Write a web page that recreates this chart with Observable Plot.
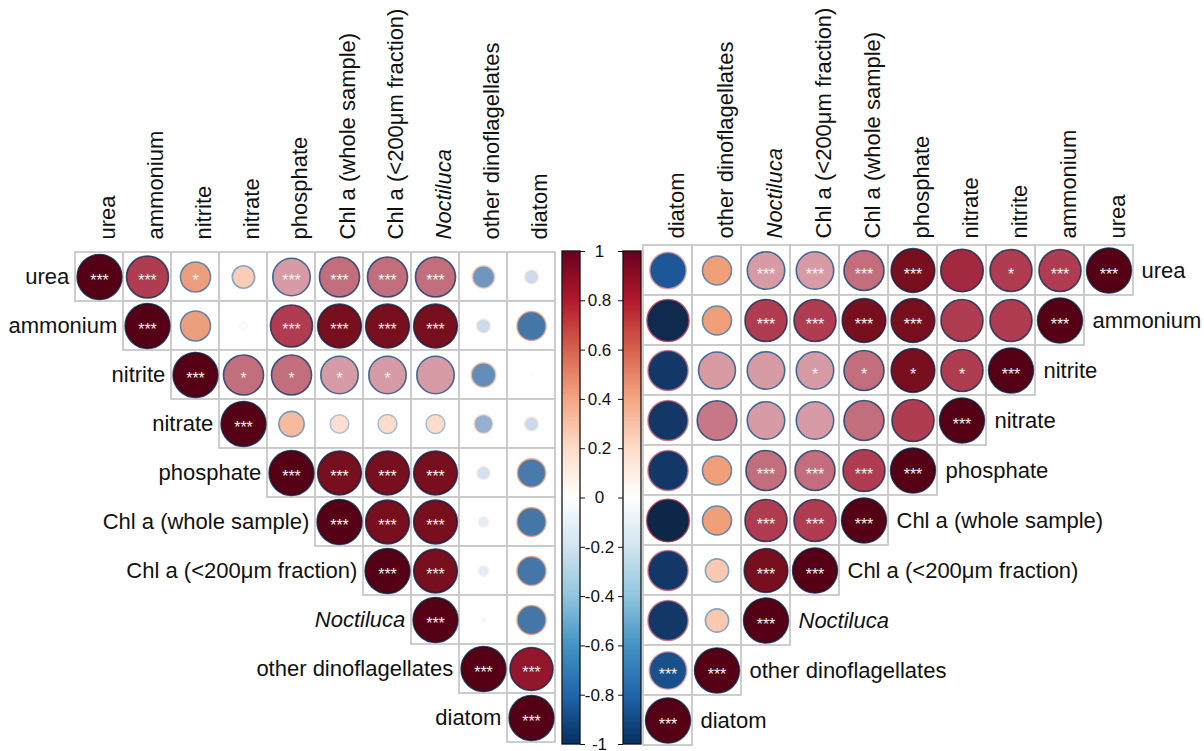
<!DOCTYPE html>
<html><head><meta charset="utf-8">
<script src="https://cdn.jsdelivr.net/npm/d3@7"></script>
<script src="https://cdn.jsdelivr.net/npm/@observablehq/plot@0.6"></script>
<style>
body{margin:0;background:#fff;}
#wrap{position:relative;width:1204px;height:751px;overflow:hidden;}
#wrap svg{position:absolute;left:0;top:0;background:transparent;}
</style></head><body><div id="wrap"></div>
<script>
// ---- data ----
const variables = ["urea","ammonium","nitrite","nitrate","phosphate","Chl a (whole sample)","Chl a (<200μm fraction)","Noctiluca","other dinoflagellates","diatom"];

// upper-triangle rows, starting at the diagonal (row i, columns i..9 in variable order)
const leftR = [
  [1, 0.88, 0.45, 0.25, 0.7, 0.8, 0.8, 0.8, -0.25, -0.1],
  [1, 0.45, 0.03, 0.88, 0.95, 0.95, 0.95, -0.1, -0.42],
  [1, 0.8, 0.8, 0.7, 0.7, 0.7, -0.3, -0.01],
  [1, 0.32, 0.17, 0.18, 0.18, -0.18, -0.1],
  [1, 0.95, 0.95, 0.95, -0.09, -0.4],
  [1, 0.95, 0.95, -0.06, -0.42],
  [1, 0.95, -0.06, -0.42],
  [1, -0.02, -0.42],
  [1, 0.92],
  [1]
];
const rightR = [
  [1, 0.88, 0.88, 0.9, 0.95, 0.8, 0.7, 0.7, 0.42, -0.66],
  [1, 0.88, 0.88, 0.95, 0.95, 0.88, 0.88, 0.42, -0.88],
  [1, 0.88, 0.95, 0.8, 0.7, 0.7, 0.68, -0.8],
  [1, 0.88, 0.8, 0.7, 0.7, 0.78, -0.8],
  [1, 0.88, 0.8, 0.8, 0.42, -0.8],
  [1, 0.88, 0.88, 0.42, -0.9],
  [1, 0.95, 0.27, -0.8],
  [1, 0.27, -0.8],
  [1, -0.7],
  [1]
];
const significance = [
  ["***","***","*","","***","***","***","***","",""],
  ["***","","","***","***","***","***","",""],
  ["***","*","*","*","*","","",""],
  ["***","","","","","",""],
  ["***","***","***","***","",""],
  ["***","***","***","",""],
  ["***","***","",""],
  ["***","",""],
  ["***","***"],
  ["***"]
];
const legendTicks = [-1,-0.8,-0.6,-0.4,-0.2,0,0.2,0.4,0.6,0.8,1];
const legendColors = ["#053061","#2166AC","#4393C3","#92C5DE","#D1E5F0","#FFFFFF","#FDDBC7","#F4A582","#D6604D","#B2182B","#67001F"];

// circle colour ramp (as rendered in the figure)
const circleStops = [-1,-0.9,-0.78,-0.66,-0.42,-0.25,-0.16,-0.08,0,0.1,0.2,0.3,0.42,0.55,0.7,0.8,0.88,0.92,0.95,1];
const circleColors = ["#081c3c","#0e2648","#143c6e","#1c5898","#4476a8","#6e96be","#a0b9d4","#dae6f2","#ffffff","#fdebe1","#fcdac8","#f7c0a5","#f0a078","#e49b8c","#d79ba5","#c36e7d","#af3c50","#94162d","#780f1e","#550014"];

const FONT = "'Liberation Sans', Arial, Helvetica, sans-serif";
const W = 1204, H = 751;

function cells(rMatrix) {
  const out = [];
  rMatrix.forEach((row, i) => row.forEach((r, k) => {
    out.push({row: variables[i], col: variables[i + k], r, sig: significance[i][k]});
  }));
  return out;
}

function matrixPlot(rMatrix, {xDomain, left, right, top, bottom, side, labelDy}) {
  const data = cells(rMatrix);
  const bw = (W - left - right) / variables.length;
  const plain = variables.filter(v => v !== "Noctiluca");
  const ital = ["Noctiluca"];
  const rowLabel = (vals, italic) => Plot.text(vals, {
    x: d => d, y: d => d,
    textAnchor: side === "left" ? "end" : "start",
    dx: side === "left" ? -(bw / 2 + 6) : (bw / 2 + 8),
    fontSize: 22, fill: "#111", fontStyle: italic ? "italic" : "normal"
  });
  const colLabel = (vals, italic) => Plot.text(vals, {
    x: d => d, frameAnchor: "top", rotate: -90, textAnchor: "start",
    dy: labelDy, fontSize: 22, fill: "#111", fontStyle: italic ? "italic" : "normal"
  });
  return Plot.plot({
    width: W, height: H,
    marginLeft: left, marginRight: right, marginTop: top, marginBottom: bottom,
    style: {background: "transparent", fontFamily: FONT},
    x: {type: "band", domain: xDomain, padding: 0, axis: null},
    y: {type: "band", domain: variables, padding: 0, axis: null},
    r: {type: "sqrt", domain: [0, 1], range: [0, 22.4]},
    color: {type: "linear", domain: circleStops, range: circleColors, interpolate: "rgb"},
    marks: [
      Plot.cell(data, {x: "col", y: "row", fill: "white", stroke: "#c8c8c8", strokeWidth: 1.8}),
      Plot.dot(data, {x: "col", y: "row", r: d => Math.abs(d.r), fill: "r", stroke: d => -d.r, strokeWidth: 1.6, strokeOpacity: 0.8}),
      Plot.text(data.filter(d => d.sig), {x: "col", y: "row", text: "sig", fill: "#f2f2f2", fontSize: 16, dy: 4}),
      colLabel(plain, false), colLabel(ital, true),
      rowLabel(plain, false), rowLabel(ital, true)
    ]
  });
}

const wrap = document.getElementById("wrap");

wrap.append(matrixPlot(leftR, {xDomain: variables, left: 73, right: W - 557, top: 248, bottom: H - 745, side: "left", labelDy: -9}));
wrap.append(matrixPlot(rightR, {xDomain: variables.slice().reverse(), left: 643, right: W - 1133, top: 245, bottom: H - 745, side: "right", labelDy: -7}));

// colour bars
const bars = ["left", "right"];
const ramp = d3.range(-1, 1, 0.005);
const rampData = bars.flatMap(b => ramp.map(v => ({bar: b, v})));
wrap.append(Plot.plot({
  width: W, height: H,
  marginLeft: 562, marginRight: W - 641, marginTop: 251, marginBottom: H - 744,
  style: {background: "transparent", fontFamily: FONT},
  x: {type: "band", domain: bars, paddingInner: 0.705, paddingOuter: 0, axis: null},
  y: {domain: [-1, 1], axis: null},
  color: {type: "linear", domain: legendTicks, range: legendColors, interpolate: "rgb"},
  marks: [
    Plot.barY(rampData, {x: "bar", y1: "v", y2: d => Math.min(1, d.v + 0.008), fill: "v", shapeRendering: "crispEdges"}),
    Plot.barY(bars, {x: d => d, y1: () => -1, y2: () => 1, fill: "none", stroke: "#111", strokeWidth: 1.3}),
    Plot.tickY(legendTicks, {x: () => "left", y: d => d, insetLeft: 18, insetRight: -5, stroke: "#111", strokeWidth: 1}),
    Plot.tickY(legendTicks, {x: () => "right", y: d => d, insetLeft: -5, insetRight: 18, stroke: "#111", strokeWidth: 1}),
    Plot.text(legendTicks, {x: () => "left", y: d => d, text: d => String(d), dx: 28, fontSize: 17, fill: "#111"})
  ]
}));
</script></body></html>
